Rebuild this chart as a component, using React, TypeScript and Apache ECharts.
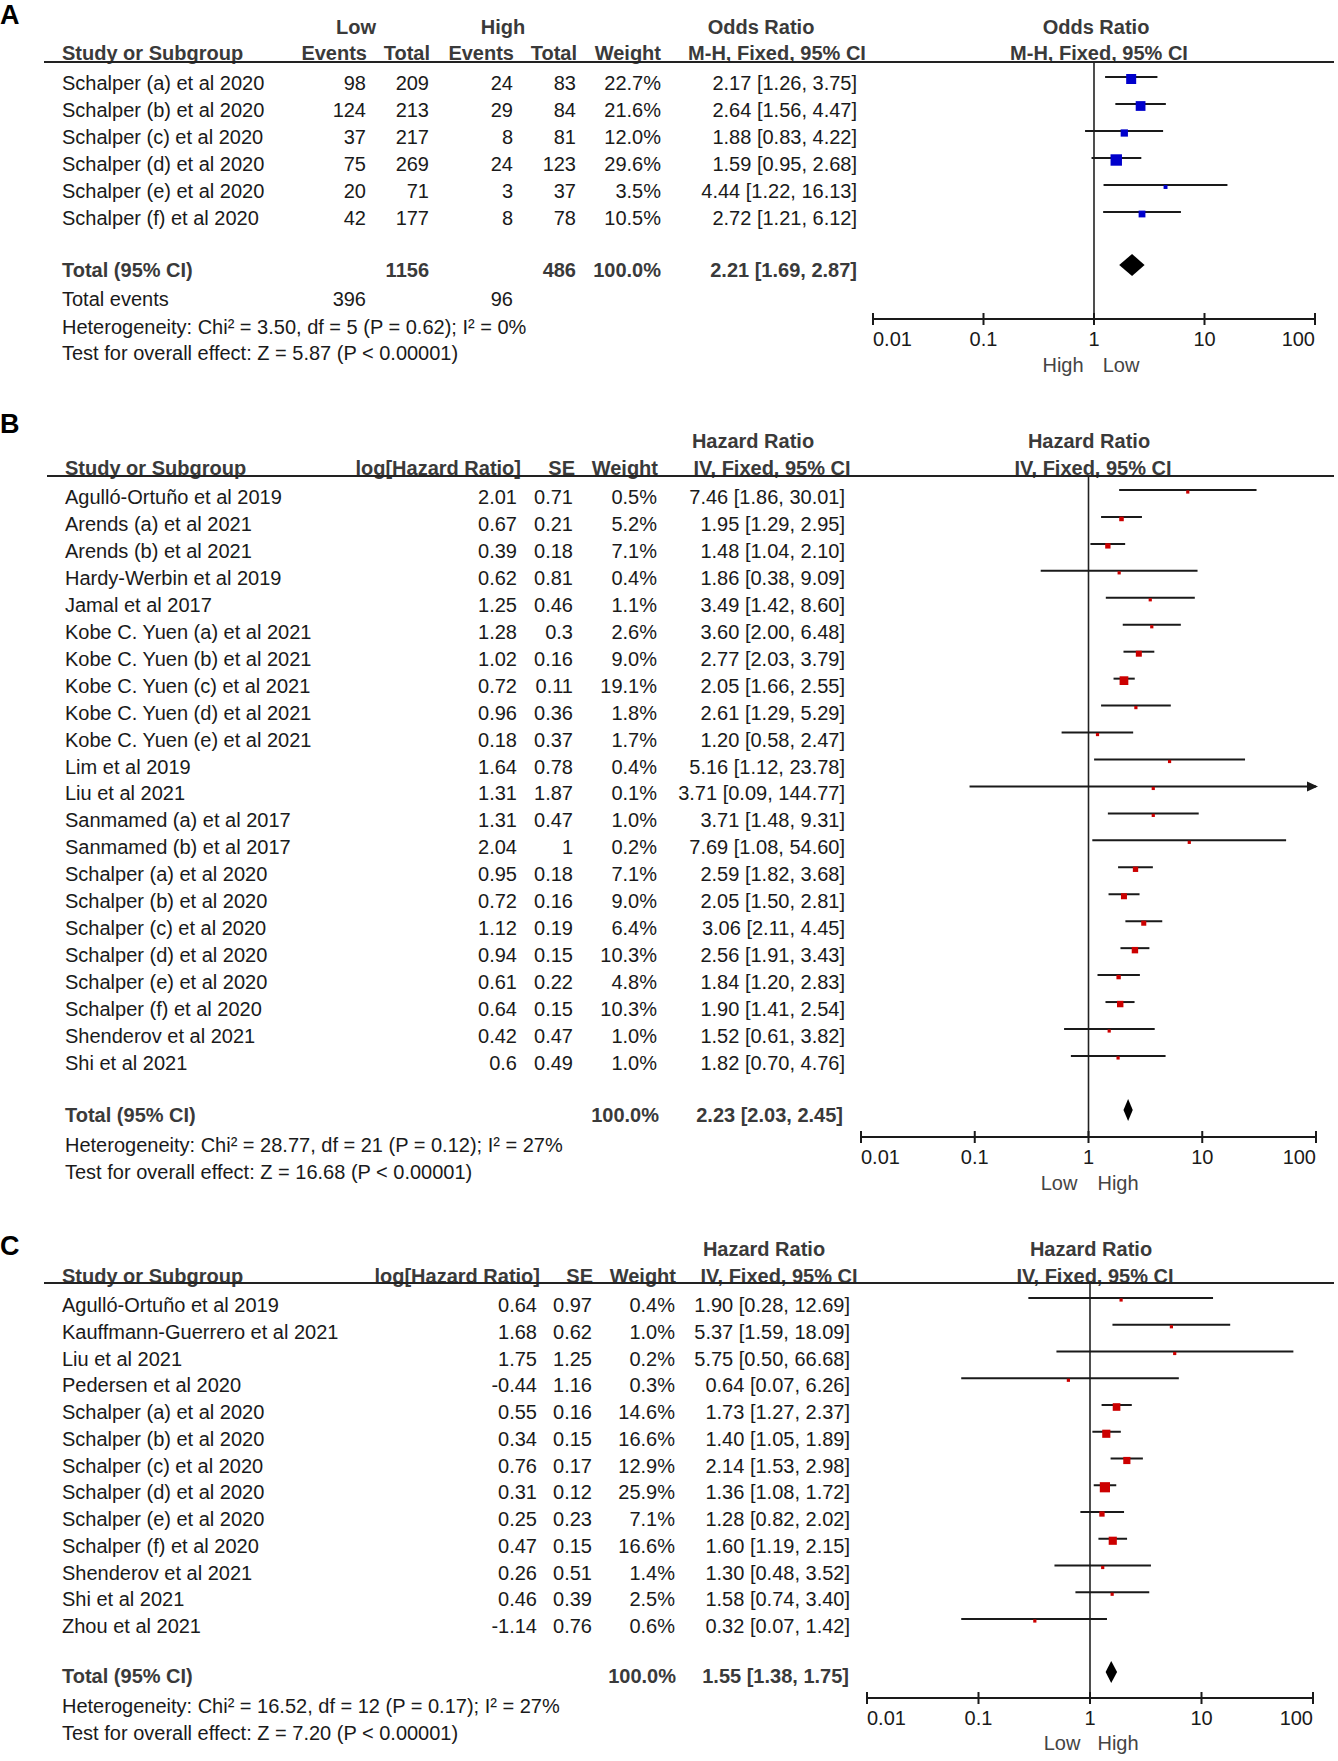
import React, { useEffect, useRef } from "react";
import * as echarts from "echarts";

const FONT = '"Liberation Sans", Arial, Helvetica, sans-serif';

// ---------- Panel A data ----------
const aStudies = [
  "Schalper (a) et al 2020",
  "Schalper (b) et al 2020",
  "Schalper (c) et al 2020",
  "Schalper (d) et al 2020",
  "Schalper (e) et al 2020",
  "Schalper (f) et al 2020",
];
const aLowEvents = [98, 124, 37, 75, 20, 42];
const aLowTotal = [209, 213, 217, 269, 71, 177];
const aHighEvents = [24, 29, 8, 24, 3, 8];
const aHighTotal = [83, 84, 81, 123, 37, 78];
const aWeight = [22.7, 21.6, 12.0, 29.6, 3.5, 10.5];
const aOR = [2.17, 2.64, 1.88, 1.59, 4.44, 2.72];
const aLo = [1.26, 1.56, 0.83, 0.95, 1.22, 1.21];
const aHi = [3.75, 4.47, 4.22, 2.68, 16.13, 6.12];
const aTotalEst = [2.21, 1.69, 2.87];
const aTotalCounts = [1156, 486];
const aTotalEvents = [396, 96];
const aHetero = "Heterogeneity: Chi² = 3.50, df = 5 (P = 0.62); I² = 0%";
const aTest = "Test for overall effect: Z = 5.87 (P < 0.00001)";

// ---------- Panel B data ----------
const bStudies = [
  "Agulló-Ortuño et al 2019",
  "Arends (a) et al 2021",
  "Arends (b) et al 2021",
  "Hardy-Werbin et al 2019",
  "Jamal et al 2017",
  "Kobe C. Yuen (a) et al 2021",
  "Kobe C. Yuen (b) et al 2021",
  "Kobe C. Yuen (c) et al 2021",
  "Kobe C. Yuen (d) et al 2021",
  "Kobe C. Yuen (e) et al 2021",
  "Lim et al 2019",
  "Liu et al 2021",
  "Sanmamed (a) et al 2017",
  "Sanmamed (b) et al 2017",
  "Schalper (a) et al 2020",
  "Schalper (b) et al 2020",
  "Schalper (c) et al 2020",
  "Schalper (d) et al 2020",
  "Schalper (e) et al 2020",
  "Schalper (f) et al 2020",
  "Shenderov et al 2021",
  "Shi et al 2021",
];
const bLogHR = ["2.01", "0.67", "0.39", "0.62", "1.25", "1.28", "1.02", "0.72", "0.96", "0.18", "1.64", "1.31", "1.31", "2.04", "0.95", "0.72", "1.12", "0.94", "0.61", "0.64", "0.42", "0.6"];
const bSE = ["0.71", "0.21", "0.18", "0.81", "0.46", "0.3", "0.16", "0.11", "0.36", "0.37", "0.78", "1.87", "0.47", "1", "0.18", "0.16", "0.19", "0.15", "0.22", "0.15", "0.47", "0.49"];
const bWeight = [0.5, 5.2, 7.1, 0.4, 1.1, 2.6, 9.0, 19.1, 1.8, 1.7, 0.4, 0.1, 1.0, 0.2, 7.1, 9.0, 6.4, 10.3, 4.8, 10.3, 1.0, 1.0];
const bHR = [7.46, 1.95, 1.48, 1.86, 3.49, 3.60, 2.77, 2.05, 2.61, 1.20, 5.16, 3.71, 3.71, 7.69, 2.59, 2.05, 3.06, 2.56, 1.84, 1.90, 1.52, 1.82];
const bLo = [1.86, 1.29, 1.04, 0.38, 1.42, 2.00, 2.03, 1.66, 1.29, 0.58, 1.12, 0.09, 1.48, 1.08, 1.82, 1.50, 2.11, 1.91, 1.20, 1.41, 0.61, 0.70];
const bHi = [30.01, 2.95, 2.10, 9.09, 8.60, 6.48, 3.79, 2.55, 5.29, 2.47, 23.78, 144.77, 9.31, 54.60, 3.68, 2.81, 4.45, 3.43, 2.83, 2.54, 3.82, 4.76];
const bTotalEst = [2.23, 2.03, 2.45];
const bHetero = "Heterogeneity: Chi² = 28.77, df = 21 (P = 0.12); I² = 27%";
const bTest = "Test for overall effect: Z = 16.68 (P < 0.00001)";

// ---------- Panel C data ----------
const cStudies = [
  "Agulló-Ortuño et al 2019",
  "Kauffmann-Guerrero et al 2021",
  "Liu et al 2021",
  "Pedersen et al 2020",
  "Schalper (a) et al 2020",
  "Schalper (b) et al 2020",
  "Schalper (c) et al 2020",
  "Schalper (d) et al 2020",
  "Schalper (e) et al 2020",
  "Schalper (f) et al 2020",
  "Shenderov et al 2021",
  "Shi et al 2021",
  "Zhou et al 2021",
];
const cLogHR = ["0.64", "1.68", "1.75", "-0.44", "0.55", "0.34", "0.76", "0.31", "0.25", "0.47", "0.26", "0.46", "-1.14"];
const cSE = ["0.97", "0.62", "1.25", "1.16", "0.16", "0.15", "0.17", "0.12", "0.23", "0.15", "0.51", "0.39", "0.76"];
const cWeight = [0.4, 1.0, 0.2, 0.3, 14.6, 16.6, 12.9, 25.9, 7.1, 16.6, 1.4, 2.5, 0.6];
const cHR = [1.90, 5.37, 5.75, 0.64, 1.73, 1.40, 2.14, 1.36, 1.28, 1.60, 1.30, 1.58, 0.32];
const cLo = [0.28, 1.59, 0.50, 0.07, 1.27, 1.05, 1.53, 1.08, 0.82, 1.19, 0.48, 0.74, 0.07];
const cHi = [12.69, 18.09, 66.68, 6.26, 2.37, 1.89, 2.98, 1.72, 2.02, 2.15, 3.52, 3.40, 1.42];
const cTotalEst = [1.55, 1.38, 1.75];
const cHetero = "Heterogeneity: Chi² = 16.52, df = 12 (P = 0.17); I² = 27%";
const cTest = "Test for overall effect: Z = 7.20 (P < 0.00001)";

// ---------- Axis ----------
const tickValues = [0.01, 0.1, 1, 10, 100];
const tickLabels = ["0.01", "0.1", "1", "10", "100"];

const ci = (e: number, l: number, h: number) => `${e.toFixed(2)} [${l.toFixed(2)}, ${h.toFixed(2)}]`;
const pct = (w: number) => `${w.toFixed(1)}%`;

type Layout = {
  left: number; right: number; top: number; axisY: number;
  firstMarkY: number; step: number; totalMarkY: number;
  color: string; k: number;
};

const layouts: Layout[] = [
  { left: 873, right: 1315, top: 62, axisY: 319, firstMarkY: 77, step: 27, totalMarkY: 265, color: "#0000CC", k: 2.1 },
  { left: 861, right: 1316, top: 476, axisY: 1137, firstMarkY: 490, step: 26.95, totalMarkY: 1110, color: "#CC0000", k: 2.0 },
  { left: 867, right: 1313, top: 1283, axisY: 1698, firstMarkY: 1298, step: 26.75, totalMarkY: 1672, color: "#CC0000", k: 2.0 },
];

const panelEst = [
  { est: aOR, lo: aLo, hi: aHi, w: aWeight, total: aTotalEst },
  { est: bHR, lo: bLo, hi: bHi, w: bWeight, total: bTotalEst },
  { est: cHR, lo: cLo, hi: cHi, w: cWeight, total: cTotalEst },
];

function txt(x: number, y: number, text: string, opts: any = {}) {
  const size = opts.size || 20;
  return {
    type: "text",
    x,
    y,
    silent: true,
    style: {
      text,
      fill: opts.color || "#1a1a1a",
      font: `${opts.bold ? "bold " : ""}${size}px ${FONT}`,
      textAlign: opts.align || "left",
      textVerticalAlign: "middle",
    },
  };
}

function hline(y: number, x1: number, x2: number) {
  return {
    type: "line",
    silent: true,
    shape: { x1, y1: y, x2, y2: y },
    style: { stroke: "#222", lineWidth: 2 },
  };
}

function buildGraphics() {
  const g: any[] = [];
  const H = "#3a3a3a";
  // ---- Panel A ----
  g.push(txt(0, 15, "A", { bold: true, size: 27, color: "#000" }));
  g.push(txt(356, 27, "Low", { bold: true, align: "center", color: H }));
  g.push(txt(503, 27, "High", { bold: true, align: "center", color: H }));
  g.push(txt(761, 27, "Odds Ratio", { bold: true, align: "center", color: H }));
  g.push(txt(1096, 27, "Odds Ratio", { bold: true, align: "center", color: H }));
  g.push(txt(62, 53, "Study or Subgroup", { bold: true, color: H }));
  g.push(txt(367, 53, "Events", { bold: true, align: "right", color: H }));
  g.push(txt(430, 53, "Total", { bold: true, align: "right", color: H }));
  g.push(txt(514, 53, "Events", { bold: true, align: "right", color: H }));
  g.push(txt(577, 53, "Total", { bold: true, align: "right", color: H }));
  g.push(txt(661, 53, "Weight", { bold: true, align: "right", color: H }));
  g.push(txt(777, 53, "M-H, Fixed, 95% CI", { bold: true, align: "center", color: H }));
  g.push(txt(1099, 53, "M-H, Fixed, 95% CI", { bold: true, align: "center", color: H }));
  g.push(hline(62, 44, 1334));
  aStudies.forEach((s, i) => {
    const y = 83 + 27 * i;
    g.push(txt(62, y, s));
    g.push(txt(366, y, String(aLowEvents[i]), { align: "right" }));
    g.push(txt(429, y, String(aLowTotal[i]), { align: "right" }));
    g.push(txt(513, y, String(aHighEvents[i]), { align: "right" }));
    g.push(txt(576, y, String(aHighTotal[i]), { align: "right" }));
    g.push(txt(661, y, pct(aWeight[i]), { align: "right" }));
    g.push(txt(857, y, ci(aOR[i], aLo[i], aHi[i]), { align: "right" }));
  });
  g.push(txt(62, 270, "Total (95% CI)", { bold: true, color: H }));
  g.push(txt(429, 270, String(aTotalCounts[0]), { bold: true, align: "right", color: H }));
  g.push(txt(576, 270, String(aTotalCounts[1]), { bold: true, align: "right", color: H }));
  g.push(txt(661, 270, "100.0%", { bold: true, align: "right", color: H }));
  g.push(txt(857, 270, ci(aTotalEst[0], aTotalEst[1], aTotalEst[2]), { bold: true, align: "right", color: H }));
  g.push(txt(62, 299, "Total events"));
  g.push(txt(366, 299, String(aTotalEvents[0]), { align: "right" }));
  g.push(txt(513, 299, String(aTotalEvents[1]), { align: "right" }));
  g.push(txt(62, 327, aHetero));
  g.push(txt(62, 353, aTest));
  g.push(txt(1063, 365, "High", { align: "center", color: "#444" }));
  g.push(txt(1121, 365, "Low", { align: "center", color: "#444" }));

  // ---- Panel B ----
  g.push(txt(0, 424, "B", { bold: true, size: 27, color: "#000" }));
  g.push(txt(753, 441, "Hazard Ratio", { bold: true, align: "center", color: H }));
  g.push(txt(1089, 441, "Hazard Ratio", { bold: true, align: "center", color: H }));
  g.push(txt(65, 468, "Study or Subgroup", { bold: true, color: H }));
  g.push(txt(521, 468, "log[Hazard Ratio]", { bold: true, align: "right", color: H }));
  g.push(txt(575, 468, "SE", { bold: true, align: "right", color: H }));
  g.push(txt(658, 468, "Weight", { bold: true, align: "right", color: H }));
  g.push(txt(772, 468, "IV, Fixed, 95% CI", { bold: true, align: "center", color: H }));
  g.push(txt(1093, 468, "IV, Fixed, 95% CI", { bold: true, align: "center", color: H }));
  g.push(hline(476, 47, 1334));
  bStudies.forEach((s, i) => {
    const y = 497 + 26.95 * i;
    g.push(txt(65, y, s));
    g.push(txt(517, y, bLogHR[i], { align: "right" }));
    g.push(txt(573, y, bSE[i], { align: "right" }));
    g.push(txt(657, y, pct(bWeight[i]), { align: "right" }));
    g.push(txt(845, y, ci(bHR[i], bLo[i], bHi[i]), { align: "right" }));
  });
  g.push(txt(65, 1115, "Total (95% CI)", { bold: true, color: H }));
  g.push(txt(659, 1115, "100.0%", { bold: true, align: "right", color: H }));
  g.push(txt(843, 1115, ci(bTotalEst[0], bTotalEst[1], bTotalEst[2]), { bold: true, align: "right", color: H }));
  g.push(txt(65, 1145, bHetero));
  g.push(txt(65, 1172, bTest));
  g.push(txt(1059, 1183, "Low", { align: "center", color: "#444" }));
  g.push(txt(1118, 1183, "High", { align: "center", color: "#444" }));

  // ---- Panel C ----
  g.push(txt(0, 1246, "C", { bold: true, size: 27, color: "#000" }));
  g.push(txt(764, 1249, "Hazard Ratio", { bold: true, align: "center", color: H }));
  g.push(txt(1091, 1249, "Hazard Ratio", { bold: true, align: "center", color: H }));
  g.push(txt(62, 1276, "Study or Subgroup", { bold: true, color: H }));
  g.push(txt(540, 1276, "log[Hazard Ratio]", { bold: true, align: "right", color: H }));
  g.push(txt(593, 1276, "SE", { bold: true, align: "right", color: H }));
  g.push(txt(676, 1276, "Weight", { bold: true, align: "right", color: H }));
  g.push(txt(779, 1276, "IV, Fixed, 95% CI", { bold: true, align: "center", color: H }));
  g.push(txt(1095, 1276, "IV, Fixed, 95% CI", { bold: true, align: "center", color: H }));
  g.push(hline(1283, 44, 1334));
  cStudies.forEach((s, i) => {
    const y = 1305 + 26.75 * i;
    g.push(txt(62, y, s));
    g.push(txt(537, y, cLogHR[i], { align: "right" }));
    g.push(txt(592, y, cSE[i], { align: "right" }));
    g.push(txt(675, y, pct(cWeight[i]), { align: "right" }));
    g.push(txt(850, y, ci(cHR[i], cLo[i], cHi[i]), { align: "right" }));
  });
  g.push(txt(62, 1676, "Total (95% CI)", { bold: true, color: H }));
  g.push(txt(676, 1676, "100.0%", { bold: true, align: "right", color: H }));
  g.push(txt(849, 1676, ci(cTotalEst[0], cTotalEst[1], cTotalEst[2]), { bold: true, align: "right", color: H }));
  g.push(txt(62, 1706, cHetero));
  g.push(txt(62, 1733, cTest));
  g.push(txt(1062, 1743, "Low", { align: "center", color: "#444" }));
  g.push(txt(1118, 1743, "High", { align: "center", color: "#444" }));
  return g;
}

function buildOption() {
  const grids: any[] = [];
  const xAxes: any[] = [];
  const yAxes: any[] = [];
  const series: any[] = [];

  layouts.forEach((L, p) => {
    const yMin = (L.top - L.firstMarkY) / L.step;
    const yMax = (L.axisY - L.firstMarkY) / L.step;
    const totalRow = (L.totalMarkY - L.firstMarkY) / L.step;
    grids.push({ left: L.left, top: L.top, width: L.right - L.left, height: L.axisY - L.top, containLabel: false });
    xAxes.push({
      type: "log",
      logBase: 10,
      min: 0.01,
      max: 100,
      gridIndex: p,
      position: "bottom",
      axisLine: { show: true, onZero: false, lineStyle: { color: "#1a1a1a", width: 2 } },
      axisTick: { show: false },
      axisLabel: { show: false },
      splitLine: { show: false },
    });
    yAxes.push({ type: "value", gridIndex: p, min: yMin, max: yMax, inverse: true, show: false });

    const d = panelEst[p];
    // reference line at 1
    series.push({
      type: "custom",
      xAxisIndex: p,
      yAxisIndex: p,
      clip: false,
      silent: true,
      data: [[1, yMin]],
      encode: { x: 0, y: 1 },
      renderItem: (params: any, api: any) => {
        const a = api.coord([api.value(0), yMin]);
        const b = api.coord([api.value(0), yMax]);
        return { type: "line", shape: { x1: a[0], y1: a[1], x2: b[0], y2: b[1] }, style: { stroke: "#222", lineWidth: 1.6 } };
      },
    });
    // axis ticks & labels
    series.push({
      type: "custom",
      xAxisIndex: p,
      yAxisIndex: p,
      clip: false,
      silent: true,
      data: tickValues.map((v, i) => [v, yMax, i]),
      encode: { x: 0, y: 1 },
      renderItem: (params: any, api: any) => {
        const i = api.value(2);
        const c = api.coord([api.value(0), yMax]);
        const align = i === 0 ? "left" : i === tickValues.length - 1 ? "right" : "center";
        return {
          type: "group",
          children: [
            { type: "line", shape: { x1: c[0], y1: c[1] - 6, x2: c[0], y2: c[1] + 6 }, style: { stroke: "#1a1a1a", lineWidth: 2 } },
            {
              type: "text",
              x: c[0],
              y: c[1] + 20,
              style: { text: tickLabels[i], font: `20px ${FONT}`, fill: "#1a1a1a", textAlign: align, textVerticalAlign: "middle" },
            },
          ],
        };
      },
    });
    // studies
    series.push({
      type: "custom",
      xAxisIndex: p,
      yAxisIndex: p,
      clip: false,
      silent: true,
      data: d.est.map((e, i) => [e, d.lo[i], d.hi[i], i, d.w[i]]),
      encode: { x: [0, 1, 2], y: 3 },
      renderItem: (params: any, api: any) => {
        const e = api.value(0), lo = api.value(1), hi = api.value(2), row = api.value(3), w = api.value(4);
        const p0 = api.coord([Math.max(lo, 0.01), row]);
        const p1 = api.coord([Math.min(hi, 100), row]);
        const pc = api.coord([e, row]);
        const s = Math.max(3.2, L.k * Math.sqrt(w));
        const children: any[] = [
          { type: "line", shape: { x1: p0[0], y1: p0[1], x2: p1[0], y2: p1[1] }, style: { stroke: "#1a1a1a", lineWidth: 2 } },
          { type: "rect", shape: { x: pc[0] - s / 2, y: pc[1] + 2 - s / 2, width: s, height: s }, style: { fill: L.color } },
        ];
        if (hi > 100) {
          children.push({
            type: "polygon",
            shape: { points: [[p1[0] + 2, p1[1]], [p1[0] - 9, p1[1] - 5], [p1[0] - 9, p1[1] + 5]] },
            style: { fill: "#1a1a1a" },
          });
        }
        return { type: "group", children };
      },
    });
    // total diamond
    series.push({
      type: "custom",
      xAxisIndex: p,
      yAxisIndex: p,
      clip: false,
      silent: true,
      data: [[d.total[0], d.total[1], d.total[2], totalRow]],
      encode: { x: [0, 1, 2], y: 3 },
      renderItem: (params: any, api: any) => {
        const row = api.value(3);
        const c = api.coord([api.value(0), row]);
        const l = api.coord([api.value(1), row]);
        const r = api.coord([api.value(2), row]);
        const h = 11;
        return {
          type: "polygon",
          shape: { points: [[l[0], c[1]], [c[0], c[1] - h], [r[0], c[1]], [c[0], c[1] + h]] },
          style: { fill: "#000" },
        };
      },
    });
  });

  return {
    animation: false,
    backgroundColor: "#ffffff",
    grid: grids,
    xAxis: xAxes,
    yAxis: yAxes,
    series,
    graphic: { elements: buildGraphics() },
  };
}

export default function App() {
  const ref = useRef<HTMLDivElement>(null);
  useEffect(() => {
    document.body.style.margin = "0";
    if (!ref.current) return;
    const chart = echarts.init(ref.current, undefined, { renderer: "svg" });
    chart.setOption(buildOption() as any);
    return () => chart.dispose();
  }, []);
  return <div ref={ref} style={{ width: 1338, height: 1761, background: "#fff" }} />;
}
